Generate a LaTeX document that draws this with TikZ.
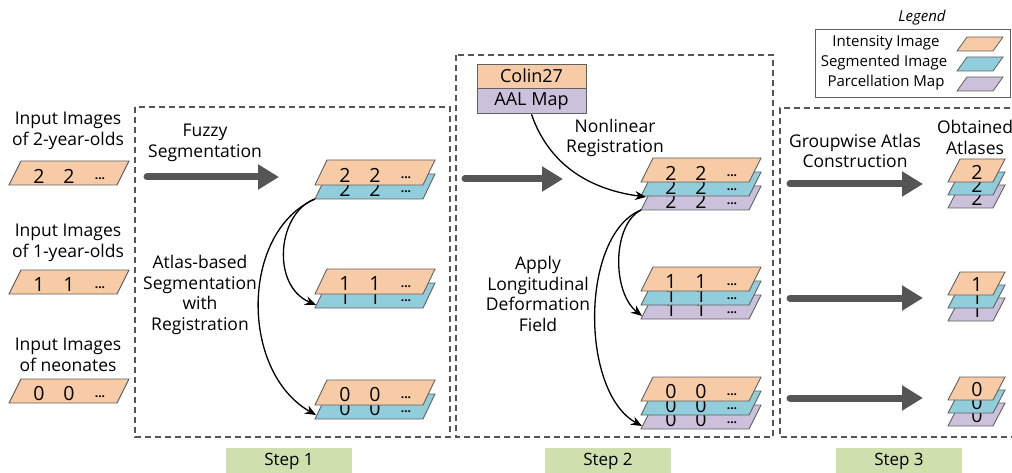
\documentclass[tikz,border=0pt]{standalone}
\usepackage{fontspec}
\setmainfont{Open Sans}
\usetikzlibrary{arrows.meta}
\definecolor{cOr}{HTML}{F8CBA7}
\definecolor{cBl}{HTML}{92CDDC}
\definecolor{cPu}{HTML}{CCC1DA}
\definecolor{cGr}{HTML}{CFDFAE}
\definecolor{edgec}{HTML}{606060}
\definecolor{arrc}{HTML}{555555}
\tikzset{
  lbl/.style={align=center, font=\fontsize{17.5}{20.5}\selectfont, inner sep=0pt},
  dig/.style={font=\fontsize{19.5}{19.5}\selectfont, inner sep=0pt},
  dotsty/.style={font=\fontsize{12}{12}\selectfont\bfseries, inner sep=0pt},
  stepbox/.style={dash pattern=on 6pt off 4pt, draw=arrc, line width=1.1pt},
  bigarrow/.style={draw=arrc, line width=7pt, line cap=round, -{Triangle[length=21pt,width=24pt]}},
  conn/.style={draw=black, line width=1.3pt, -{Stealth[length=11pt,width=9pt]}},
  steplabel/.style={fill=cGr, minimum width=126pt, minimum height=26pt, inner sep=0pt, font=\fontsize{17}{17}\selectfont},
  legtext/.style={font=\fontsize{15}{15}\selectfont, inner sep=0pt},
}
% big layer: name, x (bottom-left), ytop, fill, digit, height
\newcommand\lyr[6]{%
  \filldraw[fill=#4, draw=edgec, line width=0.9pt] (#2,#3+#6) -- (#2+12,#3) -- (#2+120,#3) -- (#2+108,#3+#6) -- cycle;
  \coordinate (#1) at (#2,#3+#6);
  \node[dig] (#1-a) at (#2+30,#3+15) {#5};
  \node[dig] (#1-b) at (#2+60,#3+15) {#5};
  \node[dotsty] (#1-c) at (#2+91,#3+18) {...};
}
% small layer: name, x (bottom-left), ytop, fill, digit
\newcommand\slyr[5]{%
  \filldraw[fill=#4, draw=edgec, line width=0.9pt] (#2,#3+23) -- (#2+12,#3) -- (#2+57,#3) -- (#2+45,#3+23) -- cycle;
  \coordinate (#1) at (#2,#3+23);
  \node[dig] (#1-a) at (#2+29,#3+13) {#5};
}
% legend swatch: x bottom-left, y top, fill
\newcommand\swatch[3]{%
  \filldraw[fill=#3, draw=edgec, line width=0.8pt] (#1,#2+14) -- (#1+10,#2) -- (#1+46,#2) -- (#1+36,#2+14) -- cycle;
}
\begin{document}
\begin{tikzpicture}[x=1pt,y=-1pt]
\useasboundingbox (0,0) rectangle (1012,473);

% ---- step boxes ----
\draw[stepbox] (135,107) rectangle (450,437);
\draw[stepbox] (456,55) rectangle (773,437);
\draw[stepbox] (1030,108) -- (780,108) -- (780,437) -- (1030,437);

\node[steplabel] (st1) at (289,461) {Step 1};
\node[steplabel] (st2) at (608,461) {Step 2};
\node[steplabel] (st3) at (899,461) {Step 3};

% ---- inputs ----
\node[lbl] (in2) at (68,131) {Input Images\\of 2-year-olds};
\node[lbl] (in1) at (68,243) {Input Images\\of 1-year-olds};
\node[lbl] (in0) at (68,355) {Input Images\\of neonates};
\lyr{i2}{9}{161}{cOr}{2}{24}
\lyr{i1}{9}{270}{cOr}{1}{24}
\lyr{i0}{9}{379}{cOr}{0}{24}

% ---- step 1 ----
\node[lbl] (fuzzy) at (205,143) {Fuzzy\\Segmentation};
\node[lbl] (atlasseg) at (200,295) {Atlas-based\\Segmentation\\with\\Registration};
\coordinate (a1s) at (147,177);
\coordinate (a1e) at (279,177);
\draw[bigarrow] (a1s) -- (a1e);

\lyr{s1b2}{315}{174}{cBl}{2}{25}
\lyr{s1o2}{315}{160}{cOr}{2}{25}
\lyr{s1b1}{315}{283}{cBl}{1}{25}
\lyr{s1o1}{315}{269}{cOr}{1}{25}
\lyr{s1b0}{315}{394}{cBl}{0}{25}
\lyr{s1o0}{315}{380}{cOr}{0}{25}
\coordinate (s1t1) at (316,305);
\coordinate (s1t0) at (316,415);
\draw[conn] (s1b2) .. controls (278,212) and (270,285) .. (s1t1);
\draw[conn] (s1b2) .. controls (240,232) and (240,372) .. (s1t0);

% ---- step 2 ----
\node[draw=edgec, line width=0.9pt, fill=cOr, minimum width=109pt, minimum height=24pt, inner sep=0pt, font=\fontsize{18}{18}\selectfont] (colin) at (531.5,76) {Colin27};
\node[draw=edgec, line width=0.9pt, fill=cPu, minimum width=109pt, minimum height=25pt, inner sep=0pt, font=\fontsize{18}{18}\selectfont, anchor=north] (aal) at (colin.south) {AAL Map};
\node[lbl] (nonlin) at (615,138) {Nonlinear\\Registration};
\node[lbl] (apply) at (538,294) {Apply\\Longitudinal\\Deformation\\Field};
\coordinate (a2s) at (465,179);
\coordinate (a2e) at (563,179);
\draw[bigarrow] (a2s) -- (a2e);

\lyr{s2p2}{641}{186}{cPu}{2}{24}
\lyr{s2b2}{641}{172}{cBl}{2}{24}
\lyr{s2o2}{641}{158}{cOr}{2}{24}
\lyr{s2p1}{641}{295}{cPu}{1}{24}
\lyr{s2b1}{641}{281}{cBl}{1}{24}
\lyr{s2o1}{641}{267}{cOr}{1}{24}
\lyr{s2p0}{641}{405}{cPu}{0}{24}
\lyr{s2b0}{641}{391}{cBl}{0}{24}
\lyr{s2o0}{641}{377}{cOr}{0}{24}
\coordinate (s2in) at (646,197);
\coordinate (s2t1) at (642,316);
\coordinate (s2t0) at (642,426);
\draw[conn] (aal.south) .. controls (548,162) and (586,189) .. (s2in);
\draw[conn] (s2p2) .. controls (612,225) and (612,292) .. (s2t1);
\draw[conn] (s2p2) .. controls (580,235) and (580,392) .. (s2t0);

% ---- step 3 ----
\node[lbl] (group) at (855,151) {Groupwise Atlas\\Construction};
\node[lbl] (obtained) at (975,137.5) {Obtained\\Atlases};
\coordinate (a3s2) at (790,184);
\coordinate (a3e2) at (923,184);
\coordinate (a3s1) at (790,298);
\coordinate (a3e1) at (923,298);
\coordinate (a3s0) at (790,398);
\coordinate (a3e0) at (923,398);
\draw[bigarrow] (a3s2) -- (a3e2);
\draw[bigarrow] (a3s1) -- (a3e1);
\draw[bigarrow] (a3s0) -- (a3e0);

\slyr{s3p2}{948}{185}{cPu}{2}
\slyr{s3b2}{948}{172}{cBl}{2}
\slyr{s3o2}{948}{159}{cOr}{2}
\slyr{s3p1}{948}{298}{cPu}{1}
\slyr{s3b1}{948}{285}{cBl}{1}
\slyr{s3o1}{948}{272}{cOr}{1}
\slyr{s3p0}{948}{403}{cPu}{0}
\slyr{s3b0}{948}{390}{cBl}{0}
\slyr{s3o0}{948}{377}{cOr}{0}

% ---- legend ----
\node[font=\fontsize{15}{15}\selectfont\itshape, inner sep=0pt] (legtitle) at (922,18) {Legend};
\draw[draw=edgec, line width=0.9pt] (815,29) rectangle (1010,97);
\node[legtext] (leg1) at (886,43) {Intensity Image};
\node[legtext] (leg2) at (884,63) {Segmented Image};
\node[legtext] (leg3) at (886,83) {Parcellation Map};
\swatch{957}{37}{cOr}
\swatch{957}{57}{cBl}
\swatch{957}{77}{cPu}
\end{tikzpicture}
\end{document}
